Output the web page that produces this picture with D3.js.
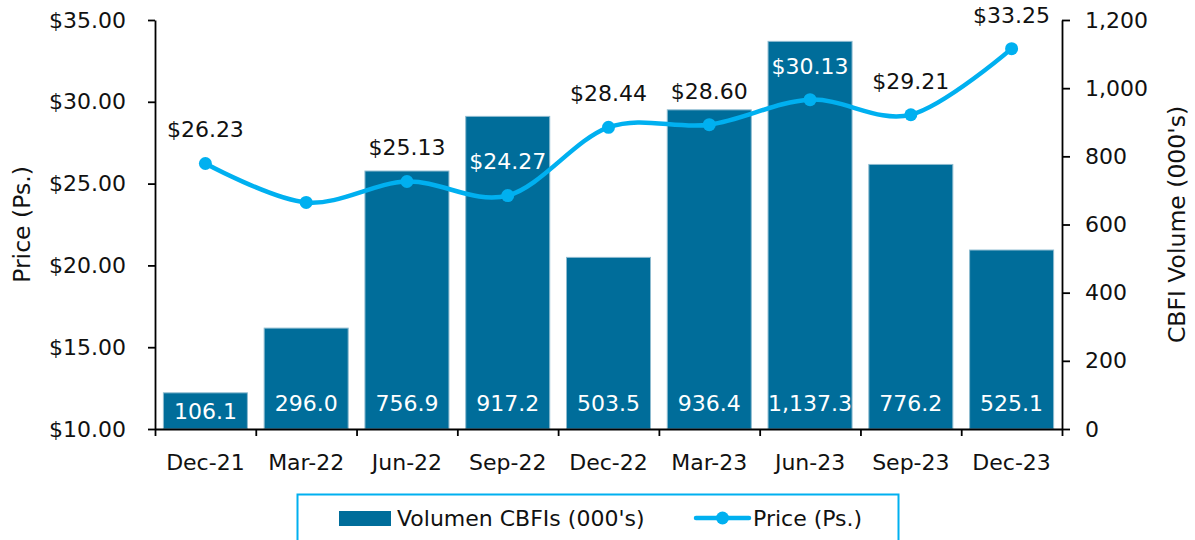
<!DOCTYPE html>
<html>
<head>
<meta charset="utf-8">
<script src="https://cdn.jsdelivr.net/npm/d3@7"></script>
<style>
  body { margin: 0; background: #fff; }
  svg text { font-family: "DejaVu Sans", sans-serif; fill: #111; }
</style>
</head>
<body>
<div id="chart"></div>
<script>
// data
const categories = ["Dec-21", "Mar-22", "Jun-22", "Sep-22", "Dec-22", "Mar-23", "Jun-23", "Sep-23", "Dec-23"];
const volume = [106.1, 296.0, 756.9, 917.2, 503.5, 936.4, 1137.3, 776.2, 525.1];
const price = [26.23, 23.85, 25.13, 24.27, 28.44, 28.60, 30.13, 29.21, 33.25];
const showPriceLabel = [true, false, true, true, true, true, true, true, true];
const priceTicks = [10, 15, 20, 25, 30, 35];
const volumeTicks = [0, 200, 400, 600, 800, 1000, 1200];

const barColor = "#006D9A";
const lineColor = "#00B0F0";

const width = 1195, height = 540;
const margin = { top: 20, right: 133, bottom: 111, left: 155 };

const svg = d3.select("#chart").append("svg")
    .attr("width", width)
    .attr("height", height);

// scales
const x = d3.scaleBand()
    .domain(categories)
    .range([margin.left, width - margin.right])
    .paddingInner(0.1665)
    .paddingOuter(0.0833);

const yPrice = d3.scaleLinear().domain([10, 35]).range([height - margin.bottom, margin.top]);
const yVol = d3.scaleLinear().domain([0, 1200]).range([height - margin.bottom, margin.top]);
const baseY = height - margin.bottom;
const cx = i => x(categories[i]) + x.bandwidth() / 2;

// bars
svg.selectAll(".bar")
    .data(volume)
    .enter().append("rect")
    .attr("class", "bar")
    .attr("x", (d, i) => x(categories[i]))
    .attr("y", d => yVol(d))
    .attr("width", x.bandwidth())
    .attr("height", d => baseY - yVol(d))
    .style("fill", barColor)
    .style("stroke", "#8dbbd0")
    .style("stroke-width", 1);

// bar value labels (inside base)
svg.selectAll(".bar-label")
    .data(volume)
    .enter().append("text")
    .attr("class", "bar-label")
    .attr("x", (d, i) => cx(i))
    .attr("y", d => Math.max(baseY - 26, (yVol(d) + baseY) / 2))
    .attr("dy", "0.36em")
    .attr("text-anchor", "middle")
    .style("font-size", "22px")
    .style("fill", "#fff")
    .text(d => d3.format(",.1f")(d));

// axes
const boundary = d3.scaleLinear().domain([0, categories.length]).range(x.range());
const xAxis = svg.append("g")
    .attr("transform", `translate(0,${baseY})`)
    .call(d3.axisBottom(boundary).tickValues(d3.range(categories.length + 1)).tickFormat("").tickSize(7).tickSizeOuter(0));

svg.selectAll(".x-label")
    .data(categories)
    .enter().append("text")
    .attr("class", "x-label")
    .attr("x", d => x(d) + x.bandwidth() / 2)
    .attr("y", baseY + 41)
    .attr("text-anchor", "middle")
    .style("font-size", "22px")
    .text(d => d);

const leftAxis = svg.append("g")
    .attr("transform", `translate(${margin.left},0)`)
    .call(d3.axisLeft(yPrice).tickValues(priceTicks).tickFormat(d => "$" + d.toFixed(2)).tickSize(7).tickSizeOuter(0).tickPadding(22));

const rightAxis = svg.append("g")
    .attr("transform", `translate(${width - margin.right},0)`)
    .call(d3.axisRight(yVol).tickValues(volumeTicks).tickFormat(d3.format(",")).tickSize(8).tickSizeOuter(0).tickPadding(15));

[xAxis, leftAxis, rightAxis].forEach(g => {
    g.select(".domain").style("stroke", "#000").style("stroke-width", 1.8);
    g.selectAll(".tick line").style("stroke", "#000").style("stroke-width", 1.8);
    g.selectAll(".tick text").style("font-size", "22px").style("font-family", "DejaVu Sans, sans-serif").style("fill", "#111");
});

// axis titles
svg.append("text")
    .attr("transform", `translate(22,${(margin.top + baseY) / 2}) rotate(-90)`)
    .attr("text-anchor", "middle")
    .attr("dy", "0.36em")
    .style("font-size", "23.5px")
    .text("Price (Ps.)");

svg.append("text")
    .attr("transform", `translate(1177,${(margin.top + baseY) / 2}) rotate(-90)`)
    .attr("text-anchor", "middle")
    .attr("dy", "0.36em")
    .style("font-size", "23.5px")
    .text("CBFI Volume (000's)");

// price line
const line = d3.line()
    .x((d, i) => cx(i))
    .y(d => yPrice(d))
    .curve(d3.curveCardinal.tension(0));

svg.append("path")
    .datum(price)
    .attr("d", line)
    .style("fill", "none")
    .style("stroke", lineColor)
    .style("stroke-width", 4.5);

svg.selectAll(".dot")
    .data(price)
    .enter().append("circle")
    .attr("class", "dot")
    .attr("cx", (d, i) => cx(i))
    .attr("cy", d => yPrice(d))
    .attr("r", 6.5)
    .style("fill", lineColor);

// price labels, white when they sit on a bar
const labelIdx = d3.range(price.length).filter(i => showPriceLabel[i]);
svg.selectAll(".price-label")
    .data(labelIdx)
    .enter().append("text")
    .attr("class", "price-label")
    .attr("x", i => cx(i))
    .attr("y", i => yPrice(price[i]) - 34)
    .attr("dy", "0.36em")
    .attr("text-anchor", "middle")
    .style("font-size", "22px")
    .style("fill", i => (yPrice(price[i]) - 42 > yVol(volume[i]) ? "#fff" : "#111"))
    .text(i => "$" + price[i].toFixed(2));

// legend
const legend = svg.append("g");
legend.append("rect")
    .attr("x", 297.5).attr("y", 494.5)
    .attr("width", 601).attr("height", 70)
    .style("fill", "none")
    .style("stroke", lineColor)
    .style("stroke-width", 2);

legend.append("rect")
    .attr("x", 339).attr("y", 511)
    .attr("width", 52).attr("height", 15)
    .style("fill", barColor);

legend.append("text")
    .attr("x", 397).attr("y", 518)
    .attr("dy", "0.36em")
    .style("font-size", "22px")
    .text("Volumen CBFIs (000's)");

legend.append("line")
    .attr("x1", 696).attr("x2", 749)
    .attr("y1", 518).attr("y2", 518)
    .style("stroke", lineColor)
    .style("stroke-width", 4.5)
    .style("stroke-linecap", "round");

legend.append("circle")
    .attr("cx", 722.5).attr("cy", 518)
    .attr("r", 6.5)
    .style("fill", lineColor);

legend.append("text")
    .attr("x", 753).attr("y", 518)
    .attr("dy", "0.36em")
    .style("font-size", "22px")
    .text("Price (Ps.)");
</script>
</body>
</html>
